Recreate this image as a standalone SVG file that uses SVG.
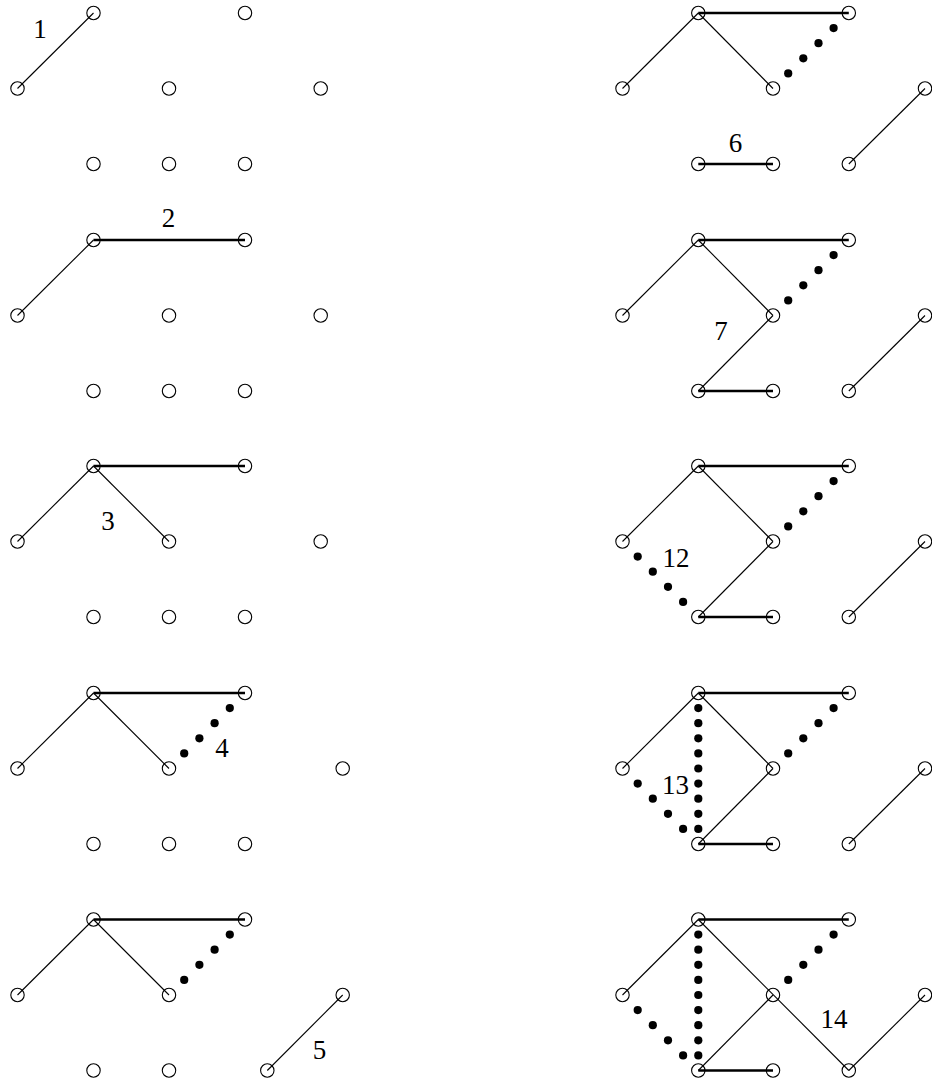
<svg xmlns="http://www.w3.org/2000/svg" xmlns:xlink="http://www.w3.org/1999/xlink" width="932" height="1082" viewBox="0 0 932 1082">
<style>
.n{fill:none;stroke:#000;stroke-width:1.1}
.e{stroke:#000;stroke-width:1.1;fill:none}
.t{stroke:#000;stroke-width:2.7;fill:none}
.d{fill:#000}
.lb{font-family:"Liberation Serif","Times New Roman",serif;font-size:27px;text-anchor:middle;fill:#000}
</style>
<defs>
<circle id="nd" r="6.7"/>
<circle id="dt" r="4.1"/>
</defs>
<rect width="932" height="1082" fill="#fff"/>

<g id="connectors">
<!-- panel 1 -->
<line class="e" x1="17.5" y1="88.5" x2="93.5" y2="13"/>
<!-- panel 2 -->
<line class="e" x1="17.5" y1="315.5" x2="93.5" y2="240"/>
<line class="t" x1="93.5" y1="240" x2="245" y2="240"/>
<!-- panel 3 -->
<line class="e" x1="17.5" y1="541.5" x2="93.5" y2="466"/>
<line class="e" x1="93.5" y1="466" x2="169" y2="541.5"/>
<line class="t" x1="93.5" y1="466" x2="245" y2="466"/>
<!-- panel 4 -->
<line class="e" x1="17.5" y1="768.5" x2="93.5" y2="693"/>
<line class="e" x1="93.5" y1="693" x2="169" y2="768.5"/>
<line class="t" x1="93.5" y1="693" x2="245" y2="693"/>
<g class="d">
<use xlink:href="#dt" x="184.2" y="753.4"/><use xlink:href="#dt" x="199.4" y="738.3"/><use xlink:href="#dt" x="214.6" y="723.2"/><use xlink:href="#dt" x="229.8" y="708.1"/>
</g>
<!-- panel 5 -->
<line class="e" x1="17.5" y1="995" x2="93.5" y2="919.5"/>
<line class="e" x1="93.5" y1="919.5" x2="169" y2="995"/>
<line class="t" x1="93.5" y1="919.5" x2="245" y2="919.5"/>
<line class="e" x1="267.3" y1="1070.5" x2="342.7" y2="995"/>
<g class="d">
<use xlink:href="#dt" x="184.2" y="979.9"/><use xlink:href="#dt" x="199.4" y="964.8"/><use xlink:href="#dt" x="214.6" y="949.7"/><use xlink:href="#dt" x="229.8" y="934.6"/>
</g>
<!-- panel 6 -->
<line class="e" x1="622.5" y1="88.5" x2="698.3" y2="13"/>
<line class="e" x1="698.3" y1="13" x2="773" y2="88.5"/>
<line class="t" x1="698.3" y1="13" x2="848.8" y2="13"/>
<line class="t" x1="698.3" y1="164" x2="773" y2="164"/>
<line class="e" x1="848.8" y1="164" x2="925" y2="88.5"/>
<g class="d">
<use xlink:href="#dt" x="788.2" y="73.4"/><use xlink:href="#dt" x="803.3" y="58.3"/><use xlink:href="#dt" x="818.5" y="43.2"/><use xlink:href="#dt" x="833.6" y="28.1"/>
</g>
<!-- panel 7 -->
<line class="e" x1="622.5" y1="315.5" x2="698.3" y2="240"/>
<line class="e" x1="698.3" y1="240" x2="773" y2="315.5"/>
<line class="t" x1="698.3" y1="240" x2="848.8" y2="240"/>
<line class="e" x1="773" y1="315.5" x2="698.3" y2="391"/>
<line class="t" x1="698.3" y1="391" x2="773" y2="391"/>
<line class="e" x1="848.8" y1="391" x2="925" y2="315.5"/>
<g class="d">
<use xlink:href="#dt" x="788.2" y="300.4"/><use xlink:href="#dt" x="803.3" y="285.3"/><use xlink:href="#dt" x="818.5" y="270.2"/><use xlink:href="#dt" x="833.6" y="255.1"/>
</g>
<!-- panel 12 -->
<line class="e" x1="622.5" y1="541.5" x2="698.3" y2="466"/>
<line class="e" x1="698.3" y1="466" x2="773" y2="541.5"/>
<line class="t" x1="698.3" y1="466" x2="848.8" y2="466"/>
<line class="e" x1="773" y1="541.5" x2="698.3" y2="617"/>
<line class="t" x1="698.3" y1="617" x2="773" y2="617"/>
<line class="e" x1="848.8" y1="617" x2="925" y2="541.5"/>
<g class="d">
<use xlink:href="#dt" x="788.2" y="526.4"/><use xlink:href="#dt" x="803.3" y="511.3"/><use xlink:href="#dt" x="818.5" y="496.2"/><use xlink:href="#dt" x="833.6" y="481.1"/>
<use xlink:href="#dt" x="637.7" y="556.6"/><use xlink:href="#dt" x="652.8" y="571.7"/><use xlink:href="#dt" x="668" y="586.8"/><use xlink:href="#dt" x="683.1" y="601.9"/>
</g>
<!-- panel 13 -->
<line class="e" x1="622.5" y1="768.5" x2="698.3" y2="693"/>
<line class="e" x1="698.3" y1="693" x2="773" y2="768.5"/>
<line class="t" x1="698.3" y1="693" x2="848.8" y2="693"/>
<line class="e" x1="773" y1="768.5" x2="698.3" y2="844"/>
<line class="t" x1="698.3" y1="844" x2="773" y2="844"/>
<line class="e" x1="848.8" y1="844" x2="925" y2="768.5"/>
<g class="d">
<use xlink:href="#dt" x="788.2" y="753.4"/><use xlink:href="#dt" x="803.3" y="738.3"/><use xlink:href="#dt" x="818.5" y="723.2"/><use xlink:href="#dt" x="833.6" y="708.1"/>
<use xlink:href="#dt" x="637.7" y="783.6"/><use xlink:href="#dt" x="652.8" y="798.7"/><use xlink:href="#dt" x="668" y="813.8"/><use xlink:href="#dt" x="683.1" y="828.9"/>
<use xlink:href="#dt" x="698.3" y="708.1"/><use xlink:href="#dt" x="698.3" y="723.2"/><use xlink:href="#dt" x="698.3" y="738.3"/><use xlink:href="#dt" x="698.3" y="753.4"/><use xlink:href="#dt" x="698.3" y="768.5"/><use xlink:href="#dt" x="698.3" y="783.6"/><use xlink:href="#dt" x="698.3" y="798.7"/><use xlink:href="#dt" x="698.3" y="813.8"/><use xlink:href="#dt" x="698.3" y="828.9"/>
</g>
<!-- panel 14 -->
<line class="e" x1="622.5" y1="995" x2="698.3" y2="919.5"/>
<line class="e" x1="698.3" y1="919.5" x2="848.8" y2="1070.5"/>
<line class="t" x1="698.3" y1="919.5" x2="848.8" y2="919.5"/>
<line class="e" x1="773" y1="995" x2="698.3" y2="1070.5"/>
<line class="t" x1="698.3" y1="1070.5" x2="773" y2="1070.5"/>
<line class="e" x1="848.8" y1="1070.5" x2="925" y2="995"/>
<g class="d">
<use xlink:href="#dt" x="788.2" y="979.9"/><use xlink:href="#dt" x="803.3" y="964.8"/><use xlink:href="#dt" x="818.5" y="949.7"/><use xlink:href="#dt" x="833.6" y="934.6"/>
<use xlink:href="#dt" x="637.7" y="1010.1"/><use xlink:href="#dt" x="652.8" y="1025.2"/><use xlink:href="#dt" x="668" y="1040.3"/><use xlink:href="#dt" x="683.1" y="1055.4"/>
<use xlink:href="#dt" x="698.3" y="934.6"/><use xlink:href="#dt" x="698.3" y="949.7"/><use xlink:href="#dt" x="698.3" y="964.8"/><use xlink:href="#dt" x="698.3" y="979.9"/><use xlink:href="#dt" x="698.3" y="995"/><use xlink:href="#dt" x="698.3" y="1010.1"/><use xlink:href="#dt" x="698.3" y="1025.2"/><use xlink:href="#dt" x="698.3" y="1040.3"/><use xlink:href="#dt" x="698.3" y="1055.4"/>
</g>
</g>

<g id="panel1">
<g id="p1n1"><use class="n" xlink:href="#nd" x="93.5" y="13"/></g>
<g id="p1n2"><use class="n" xlink:href="#nd" x="245" y="13"/></g>
<g id="p1n3"><use class="n" xlink:href="#nd" x="17.5" y="88.5"/></g>
<g id="p1n4"><use class="n" xlink:href="#nd" x="169" y="88.5"/></g>
<g id="p1n5"><use class="n" xlink:href="#nd" x="320.7" y="88.5"/></g>
<g id="p1n6"><use class="n" xlink:href="#nd" x="93.5" y="164"/></g>
<g id="p1n7"><use class="n" xlink:href="#nd" x="169" y="164"/></g>
<g id="p1n8"><use class="n" xlink:href="#nd" x="245" y="164"/></g>
<text class="lb" x="40" y="38">1</text>
</g>

<g id="panel2">
<g id="p2n1"><use class="n" xlink:href="#nd" x="93.5" y="240"/></g>
<g id="p2n2"><use class="n" xlink:href="#nd" x="245" y="240"/></g>
<g id="p2n3"><use class="n" xlink:href="#nd" x="17.5" y="315.5"/></g>
<g id="p2n4"><use class="n" xlink:href="#nd" x="169" y="315.5"/></g>
<g id="p2n5"><use class="n" xlink:href="#nd" x="320.7" y="315.5"/></g>
<g id="p2n6"><use class="n" xlink:href="#nd" x="93.5" y="391"/></g>
<g id="p2n7"><use class="n" xlink:href="#nd" x="169" y="391"/></g>
<g id="p2n8"><use class="n" xlink:href="#nd" x="245" y="391"/></g>
<text class="lb" x="168.5" y="227">2</text>
</g>

<g id="panel3">
<g id="p3n1"><use class="n" xlink:href="#nd" x="93.5" y="466"/></g>
<g id="p3n2"><use class="n" xlink:href="#nd" x="245" y="466"/></g>
<g id="p3n3"><use class="n" xlink:href="#nd" x="17.5" y="541.5"/></g>
<g id="p3n4"><use class="n" xlink:href="#nd" x="169" y="541.5"/></g>
<g id="p3n5"><use class="n" xlink:href="#nd" x="320.7" y="541.5"/></g>
<g id="p3n6"><use class="n" xlink:href="#nd" x="93.5" y="617"/></g>
<g id="p3n7"><use class="n" xlink:href="#nd" x="169" y="617"/></g>
<g id="p3n8"><use class="n" xlink:href="#nd" x="245" y="617"/></g>
<text class="lb" x="108" y="530">3</text>
</g>

<g id="panel4">
<g id="p4n1"><use class="n" xlink:href="#nd" x="93.5" y="693"/></g>
<g id="p4n2"><use class="n" xlink:href="#nd" x="245" y="693"/></g>
<g id="p4n3"><use class="n" xlink:href="#nd" x="17.5" y="768.5"/></g>
<g id="p4n4"><use class="n" xlink:href="#nd" x="169" y="768.5"/></g>
<g id="p4n5"><use class="n" xlink:href="#nd" x="342.7" y="768.5"/></g>
<g id="p4n6"><use class="n" xlink:href="#nd" x="93.5" y="844"/></g>
<g id="p4n7"><use class="n" xlink:href="#nd" x="169" y="844"/></g>
<g id="p4n8"><use class="n" xlink:href="#nd" x="245" y="844"/></g>
<text class="lb" x="222" y="757">4</text>
</g>

<g id="panel5">
<g id="p5n1"><use class="n" xlink:href="#nd" x="93.5" y="919.5"/></g>
<g id="p5n2"><use class="n" xlink:href="#nd" x="245" y="919.5"/></g>
<g id="p5n3"><use class="n" xlink:href="#nd" x="17.5" y="995"/></g>
<g id="p5n4"><use class="n" xlink:href="#nd" x="169" y="995"/></g>
<g id="p5n5"><use class="n" xlink:href="#nd" x="342.7" y="995"/></g>
<g id="p5n6"><use class="n" xlink:href="#nd" x="93.5" y="1070.5"/></g>
<g id="p5n7"><use class="n" xlink:href="#nd" x="169" y="1070.5"/></g>
<g id="p5n8"><use class="n" xlink:href="#nd" x="267.3" y="1070.5"/></g>
<text class="lb" x="319.5" y="1059">5</text>
</g>

<g id="panel6">
<g id="p6n1"><use class="n" xlink:href="#nd" x="698.3" y="13"/></g>
<g id="p6n2"><use class="n" xlink:href="#nd" x="848.8" y="13"/></g>
<g id="p6n3"><use class="n" xlink:href="#nd" x="622.5" y="88.5"/></g>
<g id="p6n4"><use class="n" xlink:href="#nd" x="773" y="88.5"/></g>
<g id="p6n5"><use class="n" xlink:href="#nd" x="925" y="88.5"/></g>
<g id="p6n6"><use class="n" xlink:href="#nd" x="698.3" y="164"/></g>
<g id="p6n7"><use class="n" xlink:href="#nd" x="773" y="164"/></g>
<g id="p6n8"><use class="n" xlink:href="#nd" x="848.8" y="164"/></g>
<text class="lb" x="735.5" y="152">6</text>
</g>

<g id="panel7">
<g id="p7n1"><use class="n" xlink:href="#nd" x="698.3" y="240"/></g>
<g id="p7n2"><use class="n" xlink:href="#nd" x="848.8" y="240"/></g>
<g id="p7n3"><use class="n" xlink:href="#nd" x="622.5" y="315.5"/></g>
<g id="p7n4"><use class="n" xlink:href="#nd" x="773" y="315.5"/></g>
<g id="p7n5"><use class="n" xlink:href="#nd" x="925" y="315.5"/></g>
<g id="p7n6"><use class="n" xlink:href="#nd" x="698.3" y="391"/></g>
<g id="p7n7"><use class="n" xlink:href="#nd" x="773" y="391"/></g>
<g id="p7n8"><use class="n" xlink:href="#nd" x="848.8" y="391"/></g>
<text class="lb" x="721" y="340">7</text>
</g>

<g id="panel12">
<g id="p12n1"><use class="n" xlink:href="#nd" x="698.3" y="466"/></g>
<g id="p12n2"><use class="n" xlink:href="#nd" x="848.8" y="466"/></g>
<g id="p12n3"><use class="n" xlink:href="#nd" x="622.5" y="541.5"/></g>
<g id="p12n4"><use class="n" xlink:href="#nd" x="773" y="541.5"/></g>
<g id="p12n5"><use class="n" xlink:href="#nd" x="925" y="541.5"/></g>
<g id="p12n6"><use class="n" xlink:href="#nd" x="698.3" y="617"/></g>
<g id="p12n7"><use class="n" xlink:href="#nd" x="773" y="617"/></g>
<g id="p12n8"><use class="n" xlink:href="#nd" x="848.8" y="617"/></g>
<text class="lb" x="676" y="566.5">12</text>
</g>

<g id="panel13">
<g id="p13n1"><use class="n" xlink:href="#nd" x="698.3" y="693"/></g>
<g id="p13n2"><use class="n" xlink:href="#nd" x="848.8" y="693"/></g>
<g id="p13n3"><use class="n" xlink:href="#nd" x="622.5" y="768.5"/></g>
<g id="p13n4"><use class="n" xlink:href="#nd" x="773" y="768.5"/></g>
<g id="p13n5"><use class="n" xlink:href="#nd" x="925" y="768.5"/></g>
<g id="p13n6"><use class="n" xlink:href="#nd" x="698.3" y="844"/></g>
<g id="p13n7"><use class="n" xlink:href="#nd" x="773" y="844"/></g>
<g id="p13n8"><use class="n" xlink:href="#nd" x="848.8" y="844"/></g>
<text class="lb" x="675.5" y="794">13</text>
</g>

<g id="panel14">
<g id="p14n1"><use class="n" xlink:href="#nd" x="698.3" y="919.5"/></g>
<g id="p14n2"><use class="n" xlink:href="#nd" x="848.8" y="919.5"/></g>
<g id="p14n3"><use class="n" xlink:href="#nd" x="622.5" y="995"/></g>
<g id="p14n4"><use class="n" xlink:href="#nd" x="773" y="995"/></g>
<g id="p14n5"><use class="n" xlink:href="#nd" x="925" y="995"/></g>
<g id="p14n6"><use class="n" xlink:href="#nd" x="698.3" y="1070.5"/></g>
<g id="p14n7"><use class="n" xlink:href="#nd" x="773" y="1070.5"/></g>
<g id="p14n8"><use class="n" xlink:href="#nd" x="848.8" y="1070.5"/></g>
<text class="lb" x="834" y="1028">14</text>
</g>
</svg>
